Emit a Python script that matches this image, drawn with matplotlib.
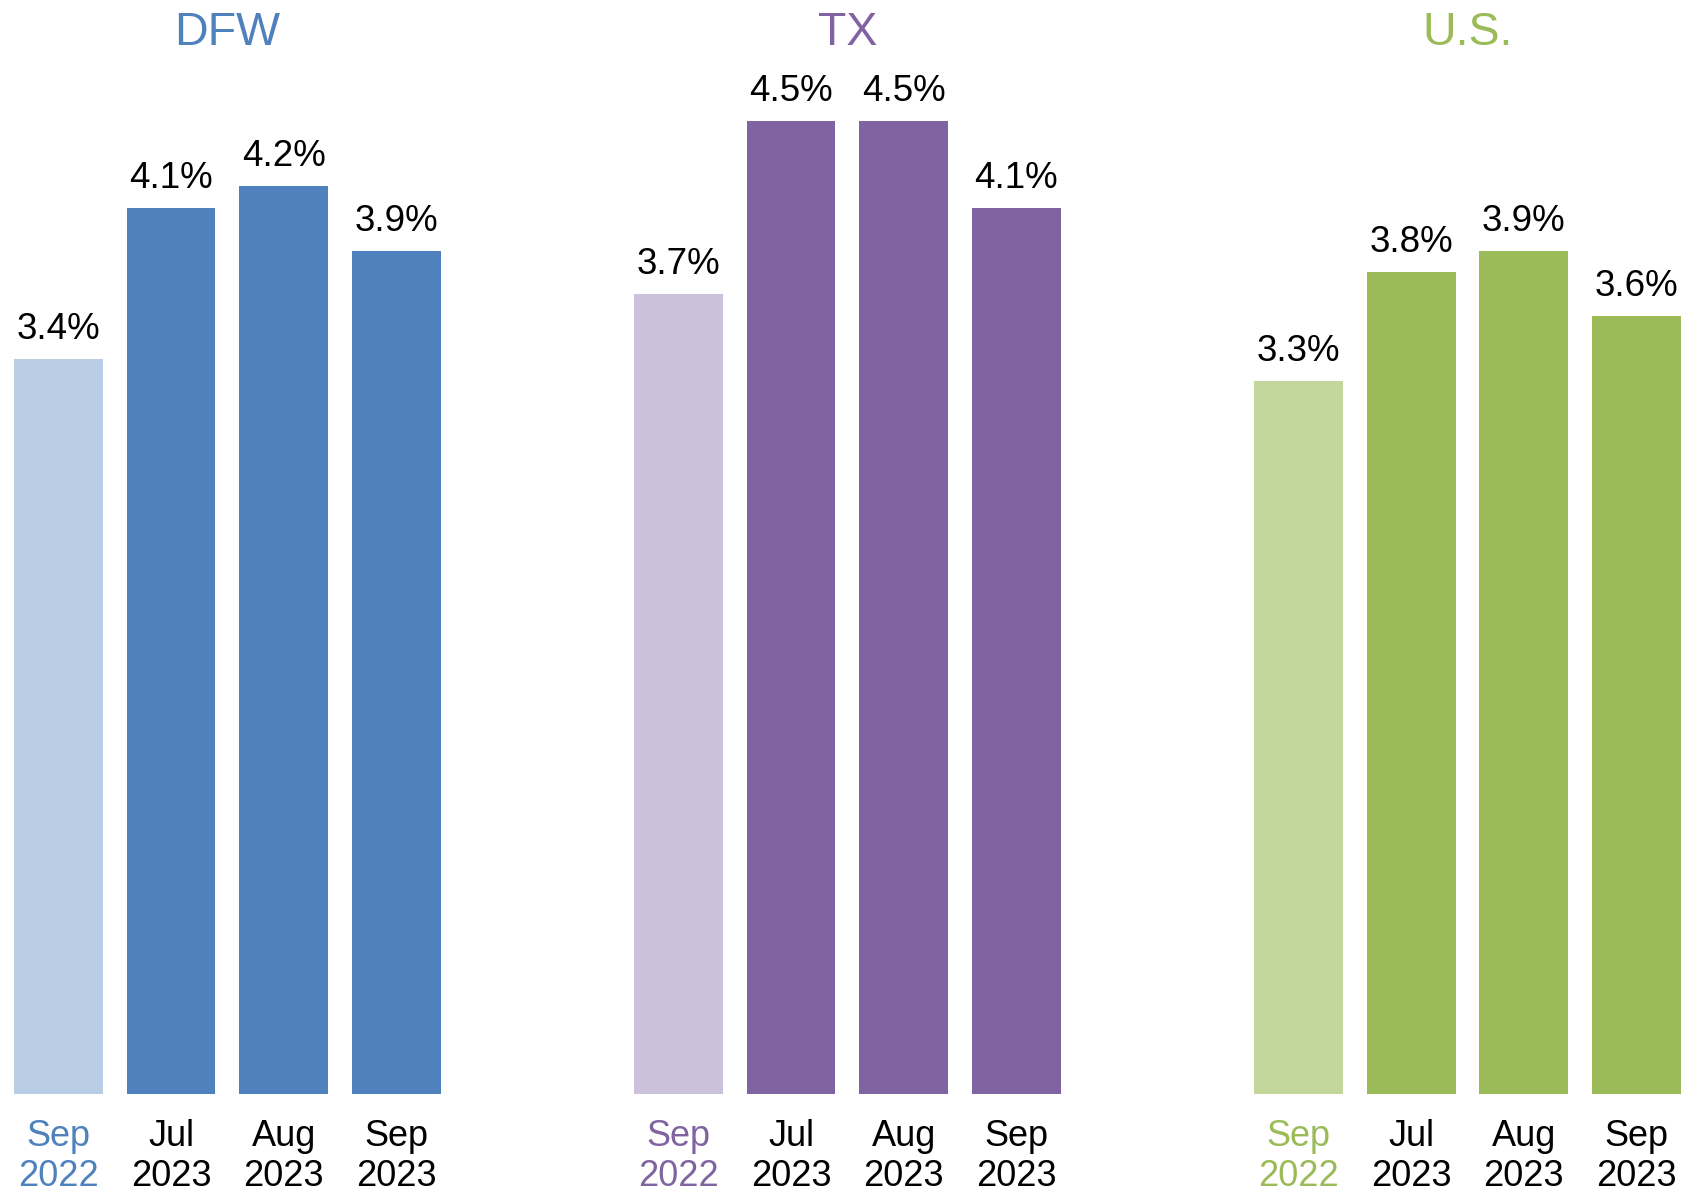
import matplotlib.pyplot as plt
import numpy as np

plt.rcParams['font.family'] = ['Liberation Sans', 'DejaVu Sans']

# unemployment rate by region
regions = ["DFW", "TX", "U.S."]
months = ["Sep\n2022", "Jul\n2023", "Aug\n2023", "Sep\n2023"]
dfw = [3.4, 4.1, 4.2, 3.9]
tx = [3.7, 4.5, 4.5, 4.1]
us = [3.3, 3.8, 3.9, 3.6]

dark_colors = ["#4F81BD", "#8064A2", "#9BBB59"]
light_colors = ["#B9CDE5", "#CCC1DA", "#C3D69B"]

fig = plt.figure(figsize=(16.89, 11.95), dpi=100)
ax = fig.add_axes([0, 101 / 1195, 1, 1094 / 1195])

group_step = 5.51
width = 0.79
tick_pos = []
tick_lab = []
tick_col = []

for g, (name, vals) in enumerate(zip(regions, [dfw, tx, us])):
    x = g * group_step + np.arange(len(vals))
    cols = [light_colors[g]] + [dark_colors[g]] * (len(vals) - 1)
    ax.bar(x, vals, width=width, color=cols)
    for xi, v in zip(x, vals):
        ax.annotate(f"{v:.1f}%", (xi, v), xytext=(0, 14.4), textcoords="offset points",
                    ha="center", va="baseline", fontsize=26.5, color="black")
    ax.text(x.mean(), 5.06 - 11 / 216.2, name, ha="center", va="top",
            fontsize=33.5, color=dark_colors[g])
    tick_pos.extend(x)
    tick_lab.extend(months)
    tick_col.extend([dark_colors[g], "black", "black", "black"])

ax.set_xlim(-0.52, 14.49)
ax.set_ylim(0, 5.06)
ax.set_xticks(tick_pos)
ax.set_xticklabels(tick_lab, fontsize=26, linespacing=1.2)
for lab, c in zip(ax.get_xticklabels(), tick_col):
    lab.set_color(c)
ax.tick_params(axis="x", length=0, pad=18)
ax.set_yticks([])
for s in ax.spines.values():
    s.set_visible(False)

fig.savefig("out.png", dpi=100)
